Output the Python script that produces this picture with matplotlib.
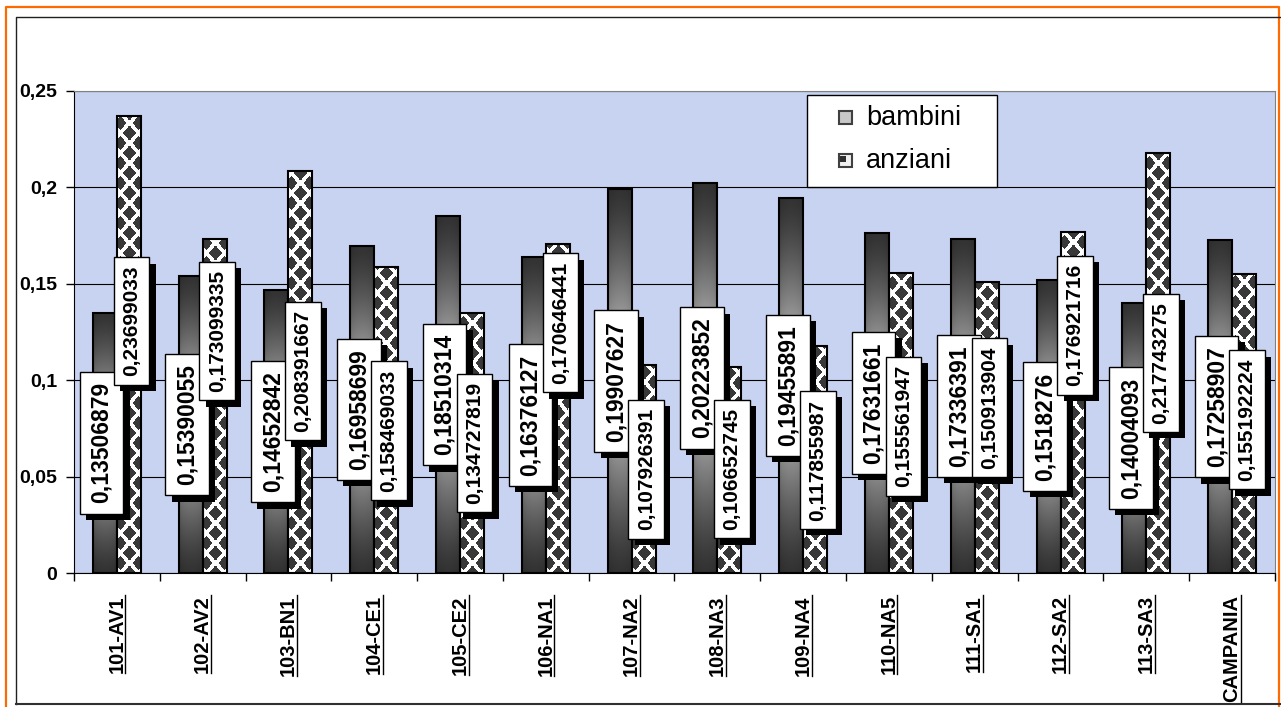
import numpy as np
import matplotlib
matplotlib.use('Agg')
import matplotlib.pyplot as plt
from matplotlib.patches import Rectangle
from matplotlib.lines import Line2D
from matplotlib import patheffects, transforms

plt.rcParams['font.family'] = ['Liberation Sans', 'DejaVu Sans']

categorie = ['101-AV1', '102-AV2', '103-BN1', '104-CE1', '105-CE2', '106-NA1', '107-NA2',
             '108-NA3', '109-NA4', '110-NA5', '111-SA1', '112-SA2', '113-SA3', 'CAMPANIA']
bambini = [0.13506879, 0.15390055, 0.14652842, 0.16958699, 0.18510314, 0.16376127, 0.19907627,
           0.20223852, 0.19455891, 0.17631661, 0.17336391, 0.1518276, 0.14004093, 0.17258907]
anziani = [0.23699033, 0.173099335, 0.208391667, 0.158469033, 0.134727819, 0.170646441, 0.107926391,
           0.106652745, 0.117855987, 0.155561947, 0.150913904, 0.176921716, 0.217743275, 0.155192224]
# posizione verticale (centro) delle etichette anziani, spostate a mano nell'originale
pos_etich_anziani = [0.1307, 0.1255, 0.1048, 0.0737, 0.0674, 0.1297, 0.0539,
                     0.0539, 0.0586, 0.0762, 0.0856, 0.1286, 0.109, 0.0794]

W, H = 1281, 707
AX_L, AX_R, AX_T, AX_B = 74, 1275, 91, 573
YMAX = 0.25
n = len(categorie)
x = np.arange(n)
w = 0.28

fig = plt.figure(figsize=(W / 100, H / 100), dpi=100)
fig.patch.set_facecolor('white')
ax = fig.add_axes([AX_L / W, (H - AX_B) / H, (AX_R - AX_L) / W, (AX_B - AX_T) / H])
ax.set_facecolor('#c7d3f0')

px_x = (AX_R - AX_L) / n
px_y = (AX_B - AX_T) / YMAX


def gradiente(h_px, w_px):
    t = np.linspace(0, 1, max(int(h_px), 2))
    s = np.linspace(0, 1, max(int(w_px), 2))
    g = 0.2 + 0.7 * (1 - np.abs(2 * t - 1)) ** 1.3
    hh = 0.85 + 0.15 * np.sin(np.pi * s) ** 0.5
    return np.clip(np.outer(g, hh), 0, 1)


def motivo(h_px, w_px, sh=8.5, sv=10.0, r=0.71):
    cols = max(int(round(w_px)), 2)
    rows = max(int(round(h_px)), 2)
    u = (np.arange(cols) + 0.5 - cols / 2) / sh
    v = (np.arange(rows)[::-1] + 0.5) / sv
    U, V = np.meshgrid(u, v)
    a, b = U + V, U - V
    da = np.abs(a - 2 * np.round(a / 2))
    db = np.abs(b - 2 * np.round(b / 2))
    return np.where(np.maximum(da, db) < r, 0.22, 1.0)


for i in range(n):
    x0 = x[i] - w
    ax.imshow(gradiente(bambini[i] * px_y, w * px_x), cmap='gray', vmin=0, vmax=1,
              extent=(x0, x0 + w, 0, bambini[i]), origin='lower', aspect='auto',
              interpolation='bilinear', zorder=2)
    x1 = x[i]
    ax.imshow(motivo(anziani[i] * px_y, w * px_x), cmap='gray', vmin=0, vmax=1,
              extent=(x1, x1 + w, 0, anziani[i]), origin='upper', aspect='auto',
              interpolation='nearest', zorder=2)

ax.bar(x - w / 2, bambini, w, facecolor='none', edgecolor='black', lw=1.5, zorder=3)
ax.bar(x + w / 2, anziani, w, facecolor='none', edgecolor='black', lw=1.5, zorder=3)

ax.set_xlim(-0.5, n - 0.5)
ax.set_ylim(0, YMAX)

ax.set_axisbelow(True)
ax.yaxis.grid(True, color='black', lw=0.8)
ax.set_yticks(np.arange(0, 0.26, 0.05))
ax.set_yticklabels([('%g' % v).replace('.', ',') for v in np.arange(0, 0.26, 0.05)],
                   fontsize=14, fontweight='bold')
ax.tick_params(axis='y', length=6, width=1, pad=6)

ax.set_xticks(np.arange(-0.5, n, 1))
ax.set_xticklabels([])
ax.set_xticks(x, minor=True)
ax.set_xticklabels(categorie, minor=True, rotation=90, fontsize=14.5, fontweight='bold')
ax.tick_params(axis='x', which='major', length=6, width=1)
ax.tick_params(axis='x', which='minor', length=0, pad=16)

for lato in ['top', 'right']:
    ax.spines[lato].set_color('#808080')
for lato in ['left', 'bottom']:
    ax.spines[lato].set_color('black')

ombra = [patheffects.withSimplePatchShadow(offset=(4.5, -4.5), shadow_rgbFace='black', alpha=1)]


def etichetta(v):
    return repr(v).replace('.', ',')


for i in range(n):
    t = ax.text(x[i] - 0.18, bambini[i] / 2, etichetta(bambini[i]), rotation=90,
                ha='center', va='center', fontsize=16.5, fontweight='bold', zorder=5,
                bbox=dict(boxstyle='square,pad=0.45', fc='white', ec='black', lw=1))
    t.get_bbox_patch().set_path_effects(ombra)
    t = ax.text(x[i] + 0.17, pos_etich_anziani[i], etichetta(anziani[i]), rotation=90,
                ha='center', va='center', fontsize=15, fontweight='bold', zorder=6,
                bbox=dict(boxstyle='square,pad=0.4', fc='white', ec='black', lw=1))
    t.get_bbox_patch().set_path_effects(ombra)


# legenda disegnata a mano
def fx(px):
    return (px - AX_L) / (AX_R - AX_L)


def fy(py):
    return (AX_B - py) / (AX_B - AX_T)


ax.add_patch(Rectangle((fx(807), fy(187)), fx(997) - fx(807), fy(95) - fy(187),
                       transform=ax.transAxes, fc='white', ec='black', lw=1, zorder=7))
ax.add_patch(Rectangle((fx(839), fy(124)), fx(852) - fx(839), fy(111) - fy(124),
                       transform=ax.transAxes, fc='#c8c8c8', ec='#404040', lw=1.5, zorder=8))
ax.add_patch(Rectangle((fx(839), fy(167)), fx(852) - fx(839), fy(154) - fy(167),
                       transform=ax.transAxes, fc='#f0f0f0', ec='#404040', lw=1.5, zorder=8))
ax.add_patch(Rectangle((fx(840), fy(162)), fx(846) - fx(840), fy(156) - fy(162),
                       transform=ax.transAxes, fc='#303030', ec='none', zorder=9))
ax.text(fx(866), fy(118), 'bambini', transform=ax.transAxes, fontsize=19.5,
        ha='left', va='center', zorder=9)
ax.text(fx(866), fy(161), 'anziani', transform=ax.transAxes, fontsize=19.5,
        ha='left', va='center', zorder=9)


# cornici esterne
def lin(xs, ys, **kw):
    fig.add_artist(Line2D([v / W for v in xs], [1 - v / H for v in ys],
                          transform=fig.transFigure, **kw))


lin([6, 6, 1279, 1279], [712, 7, 7, 712], color='#ff6a00', lw=1.6)
lin([16, 16, 1290], [704, 17, 17], color='#202020', lw=1)
lin([16, 1290], [704, 704], color='#303030', lw=1.5)

# sottolineatura etichette asse x
fig.canvas.draw()
for lab in ax.get_xticklabels(minor=True):
    bb = lab.get_window_extent()
    fig.add_artist(Line2D([bb.x1 - 1, bb.x1 - 1], [bb.y0, bb.y1],
                          transform=transforms.IdentityTransform(), color='black', lw=1))

fig.savefig('out.png', dpi=100)
